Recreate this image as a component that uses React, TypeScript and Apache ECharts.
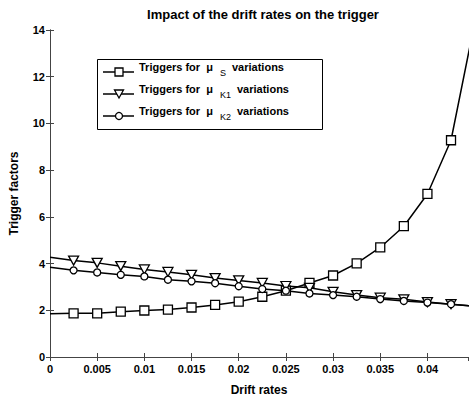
import React, { useEffect, useRef } from "react";
import * as echarts from "echarts";

const xValues = [0, 0.0025, 0.005, 0.0075, 0.01, 0.0125, 0.015, 0.0175, 0.02, 0.0225, 0.025, 0.0275, 0.03, 0.0325, 0.035, 0.0375, 0.04, 0.0425, 0.045];
const triggersMuS = [1.85, 1.87, 1.87, 1.94, 1.99, 2.03, 2.12, 2.23, 2.37, 2.58, 2.84, 3.17, 3.49, 4.01, 4.69, 5.6, 6.98, 9.28, 14.3];
const triggersMuK1 = [4.27, 4.13, 4.03, 3.89, 3.75, 3.64, 3.52, 3.38, 3.28, 3.17, 3.04, 2.96, 2.79, 2.65, 2.54, 2.47, 2.35, 2.26, 2.17];
const triggersMuK2 = [3.84, 3.71, 3.62, 3.52, 3.45, 3.31, 3.24, 3.16, 3.03, 2.91, 2.84, 2.72, 2.65, 2.58, 2.48, 2.4, 2.33, 2.26, 2.17];
const legendNames = ["S", "K1", "K2"];

const FONT = "'Liberation Sans', Arial, Helvetica, sans-serif";

function toData(ys: number[]) {
  return xValues.map((x, i) =>
    i === 0 ? { value: [x, ys[i]], symbol: "none" } : { value: [x, ys[i]] }
  );
}

export default function App() {
  const ref = useRef<HTMLDivElement>(null);
  useEffect(() => {
    if (!ref.current) return;
    const chart = echarts.init(ref.current, null, { renderer: "svg" });
    const gridLeft = 48;
    const gridTop = 30;
    const axisColor = "#444";
    const seriesCommon = {
      type: "line",
      clip: true,
      lineStyle: { color: "#000", width: 1.5 },
      itemStyle: { color: "#fff", borderColor: "#000", borderWidth: 1.3 },
      z: 3,
    };
    const legendX = 97;
    const legendY = 59;
    const rowY = [72, 94, 116];
    const legendGraphics: any[] = [
      {
        type: "rect",
        shape: { x: legendX + 0.5, y: legendY + 0.5, width: 225, height: 70 },
        style: { fill: "#fff", stroke: "#000", lineWidth: 1 },
        z: 10,
      },
    ];
    const markers = [
      (cx: number, cy: number) => ({
        type: "rect",
        shape: { x: cx - 4, y: cy - 4, width: 8, height: 8 },
        style: { fill: "#fff", stroke: "#000", lineWidth: 1.3 },
        z: 12,
      }),
      (cx: number, cy: number) => ({
        type: "polygon",
        shape: { points: [[cx - 4.5, cy - 4], [cx + 4.5, cy - 4], [cx, cy + 4]] },
        style: { fill: "#fff", stroke: "#000", lineWidth: 1.3 },
        z: 12,
      }),
      (cx: number, cy: number) => ({
        type: "circle",
        shape: { cx, cy, r: 3.5 },
        style: { fill: "#fff", stroke: "#000", lineWidth: 1.3 },
        z: 12,
      }),
    ];
    legendNames.forEach((name, i) => {
      const y = rowY[i];
      legendGraphics.push({
        type: "line",
        shape: { x1: 103, y1: y, x2: 134, y2: y },
        style: { stroke: "#000", lineWidth: 1.5 },
        z: 11,
      });
      legendGraphics.push(markers[i](119, y));
      legendGraphics.push({
        type: "text",
        x: 139,
        y: y - 5,
        style: {
          text: "Triggers for  \u03bc",
          font: `bold 11px ${FONT}`,
          fill: "#000",
          verticalAlign: "middle",
          align: "left",
        },
        z: 12,
      });
      legendGraphics.push({
        type: "text",
        x: 220,
        y: y + 1,
        style: {
          text: name,
          font: `9px ${FONT}`,
          fill: "#000",
          verticalAlign: "middle",
          align: "left",
        },
        z: 12,
      });
      legendGraphics.push({
        type: "text",
        x: name === "S" ? 232 : 237,
        y: y - 5,
        style: {
          text: "variations",
          font: `bold 11px ${FONT}`,
          fill: "#000",
          verticalAlign: "middle",
          align: "left",
        },
        z: 12,
      });
    });

    chart.setOption({
      animation: false,
      backgroundColor: "#fff",
      textStyle: { fontFamily: FONT },
      title: {
        text: "Impact of the drift rates on the trigger",
        left: 258,
        textAlign: "center",
        top: 3,
        textStyle: { fontSize: 13, fontWeight: "bold", color: "#000", fontFamily: FONT },
      },
      grid: { left: gridLeft, right: 1, top: gridTop, bottom: 38, containLabel: false },
      xAxis: [
        {
          type: "value",
          min: 0,
          max: 0.0443,
          interval: 0.005,
          name: "Drift rates",
          nameLocation: "middle",
          nameGap: 27,
          nameTextStyle: { fontSize: 12, fontWeight: "bold", color: "#000", fontFamily: FONT },
          axisLine: { show: true, lineStyle: { color: axisColor, width: 1 } },
          axisTick: { show: true, inside: true, length: 4, lineStyle: { color: axisColor } },
          axisLabel: {
            color: "#000",
            fontSize: 11,
            fontWeight: "bold",
            margin: 6,
            showMaxLabel: false,
            formatter: (v: number) => String(Number(v.toFixed(4))),
          },
          splitLine: { show: false },
        },
        {
          type: "value",
          position: "top",
          min: 0,
          max: 0.0443,
          interval: 0.005,
          axisLine: { show: true, lineStyle: { color: axisColor, width: 1 } },
          axisTick: { show: true, inside: true, length: 4, lineStyle: { color: axisColor } },
          axisLabel: { show: false },
          splitLine: { show: false },
        },
      ],
      yAxis: [
        {
          type: "value",
          min: 0,
          max: 14,
          interval: 2,
          name: "Trigger factors",
          nameLocation: "middle",
          nameGap: 30,
          nameTextStyle: { fontSize: 12, fontWeight: "bold", color: "#000", fontFamily: FONT },
          axisLine: { show: true, lineStyle: { color: axisColor, width: 1 } },
          axisTick: { show: true, inside: true, length: 4, lineStyle: { color: axisColor } },
          axisLabel: { color: "#000", fontSize: 11, fontWeight: "bold", margin: 5 },
          splitLine: { show: false },
        },
        {
          type: "value",
          position: "right",
          min: 0,
          max: 14,
          interval: 2,
          axisLine: { show: true, lineStyle: { color: axisColor, width: 1 } },
          axisTick: { show: true, inside: true, length: 4, lineStyle: { color: axisColor } },
          axisLabel: { show: false },
          splitLine: { show: false },
        },
      ],
      series: [
        {
          ...seriesCommon,
          name: "Triggers for \u03bc S variations",
          symbol: "rect",
          symbolSize: 9,
          data: toData(triggersMuS),
        },
        {
          ...seriesCommon,
          name: "Triggers for \u03bc K1 variations",
          symbol: "triangle",
          symbolRotate: 180,
          symbolSize: [10, 9],
          data: toData(triggersMuK1),
        },
        {
          ...seriesCommon,
          name: "Triggers for \u03bc K2 variations",
          symbol: "circle",
          symbolSize: 7,
          data: toData(triggersMuK2),
        },
      ],
      graphic: legendGraphics,
    });
    return () => chart.dispose();
  }, []);
  return <div ref={ref} style={{ width: 469, height: 401, position: "absolute", left: 0, top: 0 }} />;
}
